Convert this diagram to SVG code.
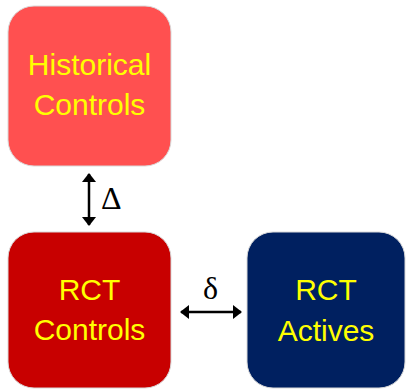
<svg xmlns="http://www.w3.org/2000/svg" width="406" height="390" viewBox="0 0 406 390">
<style>
.box{stroke:#d9d9d9;stroke-width:1}
.lbl{font-family:"Liberation Sans",Arial,sans-serif;font-size:30px;fill:#FFFF00;text-anchor:middle}
.sym{font-family:"Liberation Serif","Times New Roman",serif;font-size:32px;fill:#000}
.conn{stroke:#000;stroke-width:2.5;fill:none}
</style>
<defs>
<marker id="ah" viewBox="0 0 9 14" refX="8" refY="7" markerWidth="9" markerHeight="14" orient="auto-start-reverse" markerUnits="userSpaceOnUse">
<path d="M0,0 L9,7 L0,14 z" fill="#000"/>
</marker>
</defs>
<rect width="406" height="390" fill="#fff"/>
<g id="historical">
<rect class="box" x="8" y="6" width="163" height="160" rx="26" fill="#FF5050"/>
<text class="lbl" x="89.5" y="75">Historical</text>
<text class="lbl" x="89.5" y="115">Controls</text>
</g>
<g id="rct-controls">
<rect class="box" x="8" y="232" width="163" height="156" rx="26" fill="#C80000"/>
<text class="lbl" x="89.5" y="300">RCT</text>
<text class="lbl" x="89.5" y="340">Controls</text>
</g>
<g id="rct-actives">
<rect class="box" x="247" y="232" width="158" height="156" rx="26" fill="#002060"/>
<text class="lbl" x="326" y="300">RCT</text>
<text class="lbl" x="326" y="341">Actives</text>
</g>
<g id="connectors">
<line class="conn" x1="89" y1="174" x2="89" y2="225" marker-start="url(#ah)" marker-end="url(#ah)"/>
<line class="conn" x1="181" y1="312" x2="241" y2="312" marker-start="url(#ah)" marker-end="url(#ah)"/>
<text class="sym" x="101" y="209">Δ</text>
<text class="sym" x="203" y="299">δ</text>
</g>
</svg>
